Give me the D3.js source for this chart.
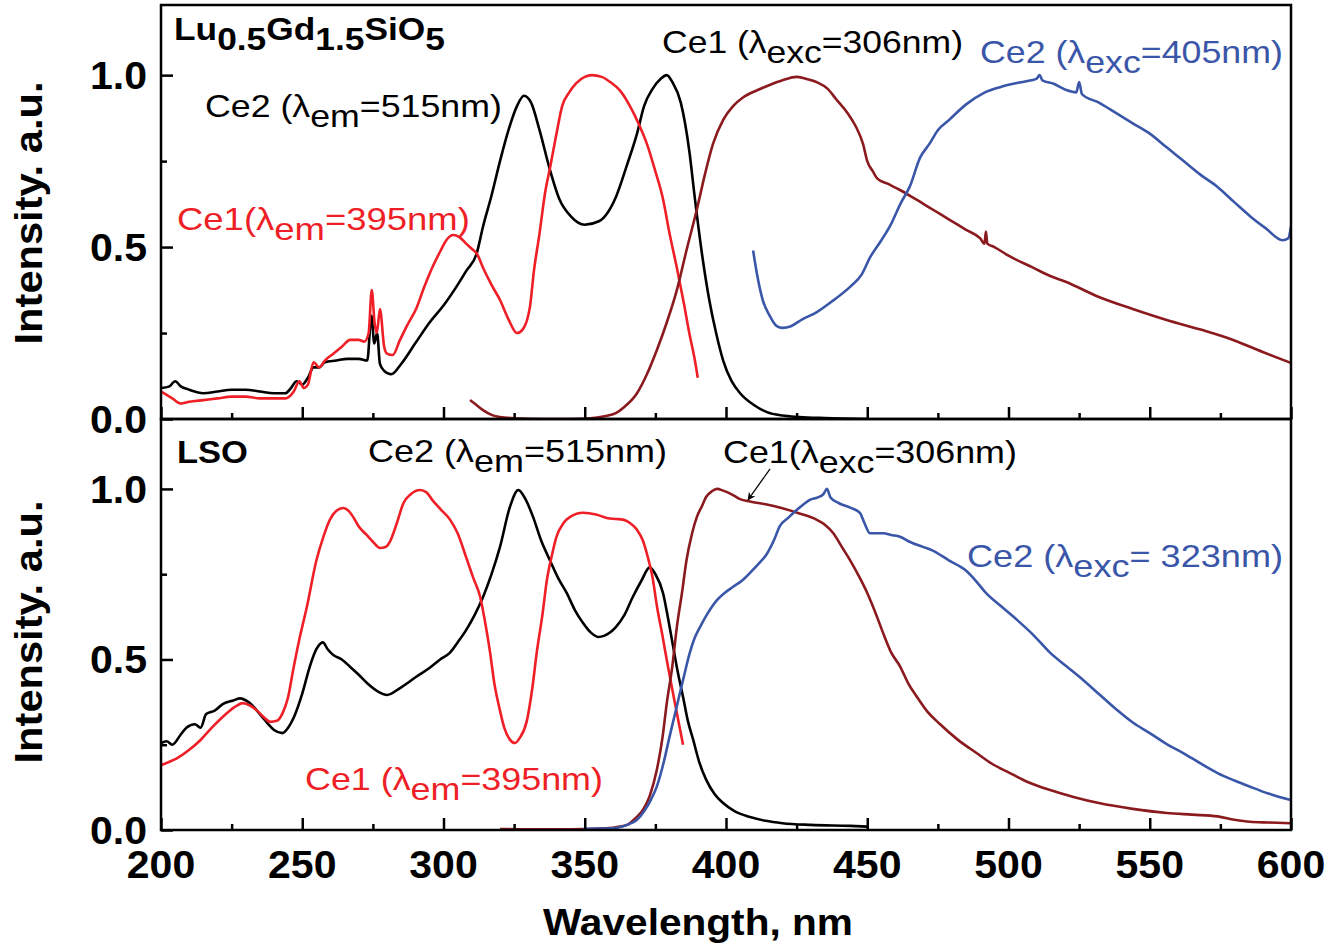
<!DOCTYPE html>
<html>
<head>
<meta charset="utf-8">
<script src="https://cdn.jsdelivr.net/npm/d3@7"></script>
<style>
  html, body { margin: 0; padding: 0; background: #fff; }
  svg { display: block; }
  text { font-family: "Liberation Sans", Arial, Helvetica, sans-serif; }
</style>
</head>
<body>
<svg id="chart" width="1341" height="948"></svg>
<script>
// ---------------- DATA ----------------
const xTickValues = [200, 250, 300, 350, 400, 450, 500, 550, 600];
const xMinorTickValues = [225, 275, 325, 375, 425, 475, 525, 575];
const yTickValues = [0, 0.5, 1.0];
const yMinorTickValues = [0.25, 0.75];
const xTickLabels = ["200", "250", "300", "350", "400", "450", "500", "550", "600"];
const yTickLabels = ["0.0", "0.5", "1.0"];

// Top panel: Lu0.5Gd1.5SiO5
const topCe2Exc = [[200,0.09],[203,0.095],[205,0.11],[207,0.095],[210,0.085],[215,0.075],[220,0.08],[225,0.085],[230,0.085],[235,0.08],[240,0.075],[244,0.075],[246,0.09],[248,0.11],[250,0.10],[252,0.12],[254,0.15],[256,0.15],[258,0.165],[262,0.17],[266,0.175],[270,0.175],[273,0.17],[274.5,0.30],[275.5,0.22],[276.5,0.25],[277.5,0.16],[279,0.14],[281.5,0.13],[285,0.16],[290,0.22],[295,0.28],[300,0.33],[305,0.39],[308,0.43],[311.7,0.48],[314,0.56],[317,0.65],[320,0.75],[323,0.84],[326,0.91],[328.5,0.94],[331,0.92],[334,0.84],[337.5,0.73],[341,0.64],[345,0.59],[350,0.565],[355,0.575],[361,0.645],[365,0.74],[368.5,0.83],[371,0.91],[374,0.96],[377,0.99],[379,1.0],[381,0.98],[384,0.92],[387,0.78],[389,0.64],[391.5,0.48],[394,0.35],[396.5,0.25],[399,0.17],[402,0.11],[405,0.075],[410,0.04],[414.5,0.02],[420,0.01],[426,0.006],[435,0.003],[450,0.0]];
const topCe1Exc = [[200,0.08],[202,0.07],[204,0.06],[207,0.045],[210,0.05],[215,0.055],[220,0.06],[225,0.065],[230,0.065],[235,0.06],[240,0.06],[244,0.06],[247,0.08],[249,0.11],[250.5,0.09],[252,0.10],[254,0.165],[256,0.15],[258,0.17],[261,0.19],[264,0.21],[267,0.23],[270,0.23],[272,0.225],[273.5,0.25],[274.6,0.375],[275.6,0.28],[276.4,0.25],[277.5,0.32],[279,0.21],[280,0.19],[282,0.186],[284.6,0.23],[287,0.27],[290.6,0.326],[293,0.38],[296,0.44],[299,0.49],[301,0.52],[303.4,0.535],[305.5,0.53],[308,0.51],[310,0.495],[311.9,0.48],[314,0.44],[317,0.39],[320,0.346],[323,0.29],[326,0.25],[328,0.26],[330.6,0.326],[332,0.43],[334,0.54],[336,0.66],[337.7,0.73],[340,0.83],[342,0.91],[344.5,0.95],[347,0.977],[350,0.995],[352.5,1.0],[356,0.995],[359,0.98],[362.5,0.955],[366,0.91],[369,0.86],[372,0.80],[375,0.72],[377.7,0.64],[380,0.54],[382.6,0.44],[385,0.34],[387,0.25],[389,0.17],[390,0.12]];
const topCe1Em = [[309.4,0.055],[311,0.045],[314,0.026],[317,0.012],[320,0.006],[325,0.002],[335,0.0],[345,0.0],[352,0.002],[357,0.008],[361,0.017],[364,0.035],[368.5,0.075],[372,0.13],[375.5,0.2],[379,0.28],[382.6,0.375],[386,0.49],[389.7,0.61],[392.5,0.71],[395.4,0.80],[399,0.87],[402.5,0.91],[406,0.935],[411,0.956],[415,0.97],[420,0.985],[425,0.995],[428,0.99],[432,0.98],[436,0.96],[439,0.93],[443,0.89],[446,0.85],[448.5,0.80],[450,0.75],[452,0.72],[453.5,0.70],[457,0.685],[461.6,0.666],[467,0.64],[473,0.61],[479,0.58],[485,0.55],[490,0.525],[491.5,0.51],[492,0.545],[492.5,0.51],[495,0.50],[500,0.475],[508.7,0.44],[515,0.415],[520,0.40],[532,0.355],[544,0.32],[556,0.288],[568,0.26],[579.5,0.23],[590,0.195],[600,0.163]];
const topCe2Em = [[409.6,0.49],[411,0.42],[413,0.346],[415.5,0.30],[418,0.27],[420,0.265],[423,0.27],[427,0.29],[432,0.31],[438,0.345],[444,0.385],[448,0.42],[451,0.47],[455,0.52],[458,0.56],[462,0.63],[465,0.675],[468.7,0.76],[472,0.80],[475,0.84],[479,0.87],[485,0.915],[491,0.947],[497,0.965],[503,0.977],[508,0.985],[510,0.99],[511,1.0],[512,0.985],[516,0.975],[520.7,0.956],[524,0.95],[525,0.98],[526,0.945],[532,0.92],[538,0.89],[544,0.86],[550,0.83],[556,0.79],[562,0.75],[568,0.71],[574,0.675],[580,0.63],[585.5,0.59],[591,0.555],[597,0.52],[599,0.525],[600,0.56]];

// Bottom panel: LSO
const botCe2Exc = [[200,0.255],[202,0.26],[204,0.25],[207,0.28],[209,0.30],[212,0.31],[214,0.30],[216,0.34],[219,0.35],[222,0.37],[225.6,0.38],[228,0.386],[231,0.375],[235,0.34],[238,0.31],[240,0.293],[243,0.284],[245,0.30],[247,0.33],[250,0.40],[252.7,0.48],[255,0.53],[257.3,0.55],[259,0.53],[261,0.513],[264,0.50],[267,0.478],[270,0.455],[273,0.43],[277,0.405],[280,0.396],[284.6,0.416],[290.5,0.45],[295,0.475],[298.8,0.50],[302.3,0.52],[305,0.55],[308,0.586],[311,0.63],[314,0.683],[317,0.75],[320,0.83],[323.5,0.947],[326.5,0.997],[329,0.97],[331.7,0.918],[334.5,0.85],[337.7,0.79],[340.5,0.74],[343.6,0.695],[346.5,0.645],[349.4,0.607],[352,0.58],[354.8,0.566],[357,0.57],[361,0.595],[364,0.63],[367,0.683],[370,0.73],[373,0.77],[375,0.75],[377.7,0.695],[379.5,0.62],[381.3,0.537],[383,0.46],[384.8,0.39],[386.5,0.32],[388.4,0.264],[390.5,0.2],[393,0.147],[396,0.105],[399,0.079],[403,0.055],[408.5,0.038],[414,0.027],[420,0.02],[430,0.015],[444,0.012],[450,0.01]];
const botCe1Exc = [[200,0.19],[203,0.2],[205.6,0.21],[210,0.235],[214,0.264],[218,0.3],[223,0.34],[226,0.36],[229,0.372],[231.5,0.365],[234,0.35],[236.5,0.33],[238.6,0.317],[241,0.32],[243,0.342],[245,0.39],[246.8,0.47],[249,0.56],[251.6,0.653],[255,0.79],[257.5,0.86],[259.8,0.91],[262,0.935],[264.5,0.944],[266.5,0.935],[268,0.918],[270,0.89],[272.8,0.865],[275,0.845],[277.5,0.827],[279.5,0.83],[281,0.845],[283.5,0.9],[285.8,0.958],[288.5,0.985],[291.7,0.997],[294,0.99],[296,0.968],[299,0.94],[302.3,0.91],[305,0.87],[308,0.80],[310.5,0.74],[313,0.683],[314.5,0.62],[316.5,0.52],[318,0.43],[320,0.35],[321.5,0.3],[323.5,0.265],[325.3,0.255],[327,0.27],[329.5,0.32],[331.5,0.42],[333,0.52],[335,0.63],[336.6,0.733],[338.5,0.81],[340,0.86],[342.5,0.9],[344.8,0.918],[349.4,0.93],[354,0.925],[357.8,0.915],[361,0.912],[363.5,0.91],[366,0.9],[368.5,0.88],[370.5,0.85],[372,0.81],[374,0.74],[375.6,0.654],[377.5,0.57],[379,0.50],[380.8,0.42],[382.6,0.343],[384.8,0.25]];
const botCe1Em = [[320,0.003],[330,0.002],[345,0.002],[355,0.004],[361,0.008],[365,0.015],[368,0.035],[370.7,0.06],[373,0.1],[375.5,0.176],[377.5,0.27],[379,0.37],[381,0.48],[382.6,0.595],[384.5,0.7],[386,0.79],[388,0.87],[389.7,0.918],[391.5,0.95],[393,0.977],[395,0.993],[396.8,1.0],[399,0.995],[402.5,0.982],[405,0.97],[408.5,0.963],[414,0.955],[420,0.943],[426,0.928],[432,0.91],[435,0.895],[438,0.87],[441,0.83],[444,0.79],[447,0.745],[450,0.695],[453,0.635],[455.6,0.578],[458.5,0.52],[461.6,0.48],[464.5,0.43],[467.6,0.39],[471,0.35],[475.8,0.31],[482,0.265],[488.8,0.225],[494,0.195],[500.5,0.167],[507,0.14],[514.7,0.117],[523,0.097],[532,0.079],[544,0.062],[556,0.05],[565,0.045],[574,0.04],[580,0.03],[585.5,0.024],[592,0.022],[600,0.02]];
const botCe2Em = [[349.4,0.003],[355,0.004],[361,0.006],[365,0.015],[368.5,0.03],[371,0.055],[373.5,0.09],[375.5,0.127],[378,0.2],[380,0.273],[382.5,0.36],[384.8,0.44],[387.2,0.52],[389,0.565],[390.8,0.595],[393.5,0.635],[396.8,0.674],[399.5,0.695],[402.5,0.713],[405.5,0.73],[408.5,0.754],[411.5,0.78],[414.5,0.81],[417,0.85],[419,0.89],[422,0.915],[425,0.938],[427.5,0.955],[429.7,0.968],[432.5,0.975],[434.5,0.985],[435.7,1.0],[437,0.975],[440,0.958],[444,0.945],[447.4,0.93],[449,0.9],[451,0.87],[455.6,0.87],[458.5,0.865],[461.6,0.86],[465,0.845],[469.7,0.83],[473,0.82],[479,0.79],[485,0.76],[488.5,0.73],[492,0.695],[497.5,0.655],[503,0.616],[509,0.57],[514.7,0.52],[520.5,0.48],[526.4,0.44],[532.5,0.395],[538.4,0.352],[544,0.315],[550,0.284],[556,0.252],[562,0.225],[568,0.195],[574,0.167],[580,0.145],[585.5,0.127],[592,0.107],[600,0.088]];

// arrow annotation (bottom panel), data coords
const arrowFrom = [415.6, 1.059];
const arrowTo = [407.8, 0.968];

// ---------------- STYLE / LAYOUT ----------------
const C = { black: "#000000", red: "#ee1f26", brown: "#8b1a1e", blue: "#3a56a8" };
const svg = d3.select("#chart");
svg.append("rect").attr("width", 1341).attr("height", 948).attr("fill", "#fff");

const x = d3.scaleLinear().domain([200, 600]).range([161, 1291]);
const panels = [
  { y: d3.scaleLinear().domain([0, 1.204]).range([419, 5]), top: 5, bottom: 419,
    series: [[topCe2Exc, C.black], [topCe1Exc, C.red], [topCe1Em, C.brown], [topCe2Em, C.blue]] },
  { y: d3.scaleLinear().domain([0, 1.205]).range([830, 419]), top: 419, bottom: 830,
    series: [[botCe2Exc, C.black], [botCe1Exc, C.red], [botCe1Em, C.brown], [botCe2Em, C.blue]] }
];

// helper: text made of parts, scaled along its direction to a target width
function label(opts) {
  const g = svg.append("g").attr("transform",
    `translate(${opts.x},${opts.y})` + (opts.rotate ? ` rotate(${opts.rotate})` : ""));
  const t = g.append("text")
    .attr("font-size", opts.size)
    .attr("font-weight", opts.weight || "normal")
    .attr("fill", opts.fill || "#000")
    .attr("text-anchor", opts.anchor || "start");
  if (opts.dy) t.attr("dy", opts.dy);
  let shift = 0;
  (opts.parts || [{ t: opts.text }]).forEach(p => {
    const want = p.sub ? opts.sub : 0;
    const ts = t.append("tspan").text(p.t);
    if (want !== shift) { ts.attr("dy", want - shift); shift = want; }
  });
  if (opts.width) {
    const w = t.node().getComputedTextLength();
    if (w > 0) t.attr("transform", `scale(${opts.width / w},1)`);
  } else if (opts.sx) {
    t.attr("transform", `scale(${opts.sx},1)`);
  }
  return g;
}

const line = d3.line().x(d => x(d[0])).curve(d3.curveMonotoneX);

panels.forEach((p, i) => {
  const clipId = "clip" + i;
  svg.append("clipPath").attr("id", clipId).append("rect")
    .attr("x", 161).attr("y", p.top).attr("width", 1130).attr("height", p.bottom - p.top);
  const g = svg.append("g").attr("clip-path", `url(#${clipId})`);
  p.series.forEach(([data, color]) => {
    g.append("path").datum(data)
      .attr("d", line.y(d => p.y(d[1])))
      .attr("fill", "none").attr("stroke", color)
      .attr("stroke-width", 2.6).attr("stroke-linejoin", "round");
  });

  // axes (ticks inward)
  const ax = svg.append("g").attr("transform", `translate(0,${p.bottom})`)
    .call(d3.axisBottom(x).tickValues(xTickValues).tickSize(-12).tickSizeOuter(0).tickFormat(""));
  const axm = svg.append("g").attr("transform", `translate(0,${p.bottom})`)
    .call(d3.axisBottom(x).tickValues(xMinorTickValues).tickSize(-6).tickSizeOuter(0).tickFormat(""));
  const ay = svg.append("g").attr("transform", `translate(161,0)`)
    .call(d3.axisLeft(p.y).tickValues(yTickValues).tickSize(-12).tickSizeOuter(0).tickFormat(""));
  const aym = svg.append("g").attr("transform", `translate(161,0)`)
    .call(d3.axisLeft(p.y).tickValues(yMinorTickValues).tickSize(-6).tickSizeOuter(0).tickFormat(""));
  [ax, axm, ay, aym].forEach(a => {
    a.selectAll(".domain").remove();
    a.selectAll(".tick line").attr("stroke", "#000").attr("stroke-width", 2.5);
  });

  // frame
  svg.append("rect").attr("x", 161).attr("y", p.top).attr("width", 1130).attr("height", p.bottom - p.top)
    .attr("fill", "none").attr("stroke", "#000").attr("stroke-width", 2.5);

  // y tick labels
  yTickValues.forEach((v, k) => {
    label({ x: 147, y: p.y(v), dy: "0.36em", text: yTickLabels[k], size: 38, weight: "bold", anchor: "end", sx: 1.08 });
  });
});

// x tick labels (bottom panel only)
xTickValues.forEach((v, k) => {
  label({ x: x(v), y: 878, text: xTickLabels[k], size: 38, weight: "bold", anchor: "middle", sx: 1.08 });
});

// axis titles
label({ x: 698, y: 935, text: "Wavelength, nm", size: 37, weight: "bold", anchor: "middle", width: 310 });
label({ x: 42, y: 213, rotate: -90, text: "Intensity. a.u.", size: 39, weight: "bold", anchor: "middle", width: 263 });
label({ x: 42, y: 632, rotate: -90, text: "Intensity. a.u.", size: 39, weight: "bold", anchor: "middle", width: 263 });

// panel titles
label({ x: 174, y: 40, size: 31, weight: "bold", sub: 10, width: 271,
  parts: [{ t: "Lu" }, { t: "0.5", sub: true }, { t: "Gd" }, { t: "1.5", sub: true }, { t: "SiO" }, { t: "5", sub: true }] });
label({ x: 177, y: 463, size: 32, weight: "bold", text: "LSO", width: 71 });

// curve annotations
const ann = [
  { x: 205, y: 117, w: 297, fill: C.black, parts: [{ t: "Ce2 (λ" }, { t: "em", sub: true }, { t: "=515nm)" }] },
  { x: 177, y: 230, w: 293, fill: C.red, parts: [{ t: "Ce1(λ" }, { t: "em", sub: true }, { t: "=395nm)" }] },
  { x: 662, y: 53, w: 301, fill: C.black, parts: [{ t: "Ce1 (λ" }, { t: "exc", sub: true }, { t: "=306nm)" }] },
  { x: 980, y: 63, w: 303, fill: C.blue, parts: [{ t: "Ce2 (λ" }, { t: "exc", sub: true }, { t: "=405nm)" }] },
  { x: 368, y: 462, w: 299, fill: C.black, parts: [{ t: "Ce2 (λ" }, { t: "em", sub: true }, { t: "=515nm)" }] },
  { x: 723, y: 463, w: 294, fill: C.black, parts: [{ t: "Ce1(λ" }, { t: "exc", sub: true }, { t: "=306nm)" }] },
  { x: 967, y: 567, w: 316, fill: C.blue, parts: [{ t: "Ce2 (λ" }, { t: "exc", sub: true }, { t: "= 323nm)" }] },
  { x: 305, y: 790, w: 298, fill: C.red, parts: [{ t: "Ce1 (λ" }, { t: "em", sub: true }, { t: "=395nm)" }] }
];
ann.forEach(a => label({ x: a.x, y: a.y, size: 32, fill: a.fill, sub: 10, width: a.w, parts: a.parts }));

// arrow
svg.append("defs").append("marker").attr("id", "ah")
  .attr("viewBox", "0 0 10 10").attr("refX", 9).attr("refY", 5)
  .attr("markerWidth", 14).attr("markerHeight", 8).attr("markerUnits", "userSpaceOnUse")
  .attr("orient", "auto")
  .append("path").attr("d", "M0,0 L10,5 L0,10 L3,5 Z").attr("fill", "#000");
const yb = panels[1].y;
svg.append("line")
  .attr("x1", x(arrowFrom[0])).attr("y1", yb(arrowFrom[1]))
  .attr("x2", x(arrowTo[0])).attr("y2", yb(arrowTo[1]))
  .attr("stroke", "#000").attr("stroke-width", 1.2).attr("marker-end", "url(#ah)");
</script>
</body>
</html>
